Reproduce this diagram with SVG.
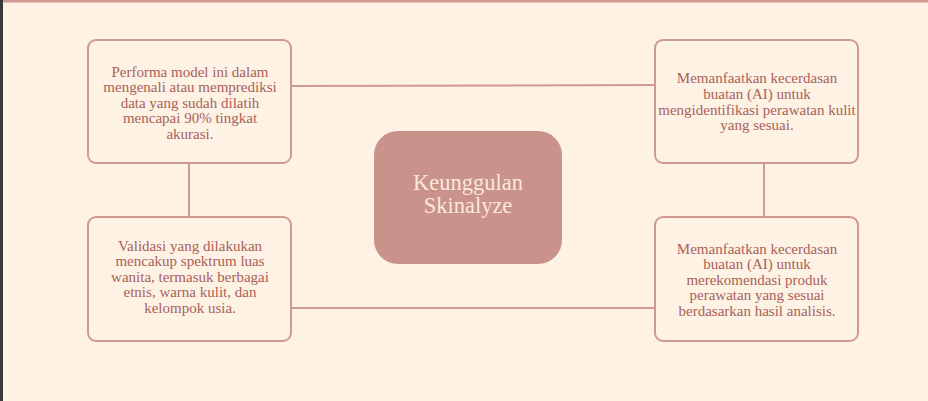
<svg xmlns="http://www.w3.org/2000/svg" width="928" height="401" viewBox="0 0 928 401">
<style>
.box{fill:#fdf2e3;stroke:#d09a90;stroke-width:2}
.t{font-family:"Liberation Serif","DejaVu Serif",serif;font-size:15px;fill:#a9615b;text-anchor:middle}
.c{font-family:"Liberation Serif","DejaVu Serif",serif;font-size:22.5px;fill:#fbe8dc;text-anchor:middle}
.ln{stroke:#d09a90;stroke-width:2;fill:none}
</style>
<rect x="0" y="0" width="928" height="401" fill="#fdf2e3"/>
<rect x="0" y="0" width="928" height="2.5" fill="#d29a92"/>
<rect x="0" y="0" width="3" height="401" fill="#3a3a3a"/>
<g id="connectors">
<line class="ln" x1="291" y1="86" x2="655" y2="85"/>
<line class="ln" x1="291" y1="308" x2="655" y2="308"/>
<line class="ln" x1="189" y1="163" x2="189" y2="217"/>
<line class="ln" x1="764" y1="163" x2="764" y2="217"/>
</g>
<g id="center">
<rect x="374" y="131" width="188" height="133" rx="24" fill="#c9928a"/>
<text class="c" x="468" y="190">Keunggulan</text>
<text class="c" x="468" y="213">Skinalyze</text>
</g>
<g id="node-tl">
<rect class="box" x="88" y="40" width="203" height="123" rx="8"/>
<text class="t" x="190" y="77">Performa model ini dalam</text>
<text class="t" x="190" y="92">mengenali atau memprediksi</text>
<text class="t" x="190" y="107.5">data yang sudah dilatih</text>
<text class="t" x="190" y="123">mencapai 90% tingkat</text>
<text class="t" x="190" y="138.5">akurasi.</text>
</g>
<g id="node-tr">
<rect class="box" x="655" y="40" width="203" height="123" rx="8"/>
<text class="t" x="757" y="83">Memanfaatkan kecerdasan</text>
<text class="t" x="757" y="99">buatan (AI) untuk</text>
<text class="t" x="757" y="114.5">mengidentifikasi perawatan kulit</text>
<text class="t" x="757" y="130">yang sesuai.</text>
</g>
<g id="node-bl">
<rect class="box" x="88" y="217" width="203" height="124" rx="8"/>
<text class="t" x="190" y="250.5">Validasi yang dilakukan</text>
<text class="t" x="190" y="266">mencakup spektrum luas</text>
<text class="t" x="190" y="281.5">wanita, termasuk berbagai</text>
<text class="t" x="190" y="297">etnis, warna kulit, dan</text>
<text class="t" x="190" y="312.5">kelompok usia.</text>
</g>
<g id="node-br">
<rect class="box" x="655" y="217" width="203" height="124" rx="8"/>
<text class="t" x="757" y="253.5">Memanfaatkan kecerdasan</text>
<text class="t" x="757" y="269">buatan (AI) untuk</text>
<text class="t" x="757" y="284.5">merekomendasi produk</text>
<text class="t" x="757" y="300">perawatan yang sesuai</text>
<text class="t" x="757" y="315.5">berdasarkan hasil analisis.</text>
</g>
</svg>
